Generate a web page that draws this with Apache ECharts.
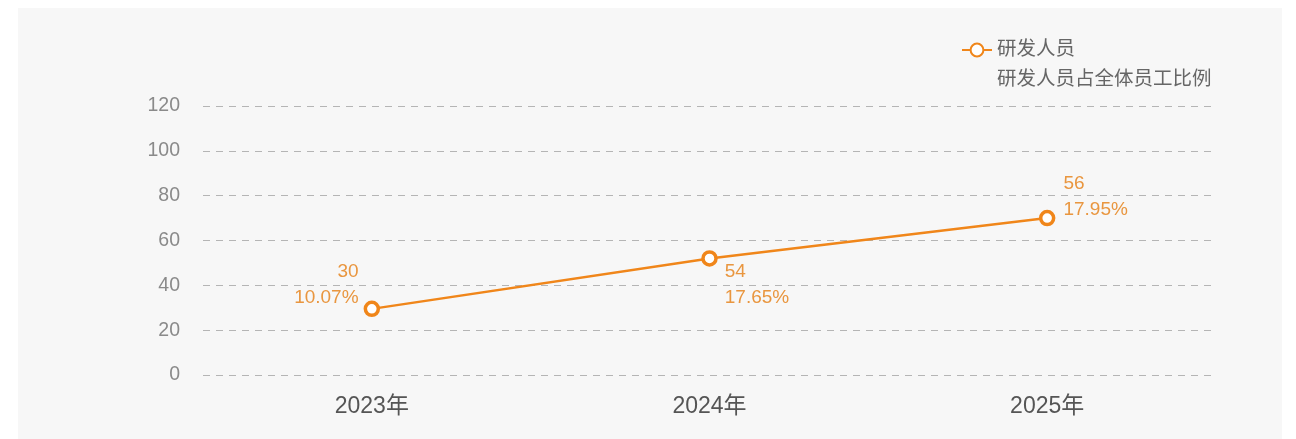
<!DOCTYPE html>
<html>
<head>
<meta charset="utf-8">
<style>
  html, body { margin: 0; padding: 0; background: #fff; }
  #main { width: 1296px; height: 439px; }
</style>
<script src="https://cdn.jsdelivr.net/npm/echarts@6/dist/echarts.min.js"></script>
</head>
<body>
<div id="main"></div>
<script>
// 数据
var years = ['2023年', '2024年', '2025年'];
var staffLine = [29.5, 52, 70];          // 图上折线位置
var staffCount = [30, 54, 56];           // 标注的人数
var staffRatio = ['10.07%', '17.65%', '17.95%'];
var ratioValue = [10.07, 17.65, 17.95];
var yTicks = [0, 120, 20];               // min, max, interval

var fontFamily = '"Liberation Sans", "Noto Sans CJK SC", sans-serif';
var orange = '#f0861a';
var labelColor = '#e9963f';

// 每个点的标注摆放
var labelPlace = [
    {position: 'left', offset: [0, -24]},
    {position: 'right', offset: [2, 26]},
    {position: 'right', offset: [3, -21]}
];

var chart = echarts.init(document.getElementById('main'));

var lineData = staffLine.map(function (v, i) {
    return {
        value: v,
        label: {
            show: true,
            position: labelPlace[i].position,
            offset: labelPlace[i].offset,
            formatter: staffCount[i] + '\n' + staffRatio[i]
        }
    };
});

var option = {
    backgroundColor: '#ffffff',
    textStyle: {fontFamily: fontFamily},
    graphic: [{
        type: 'rect',
        z: -10,
        silent: true,
        shape: {x: 18, y: 8, width: 1264, height: 431},
        style: {fill: '#f7f7f7'}
    }],
    legend: {
        orient: 'vertical',
        left: 956,
        top: 35,
        itemWidth: 30,
        itemHeight: 16,
        itemGap: 10,
        textStyle: {color: '#666', fontSize: 19.5, lineHeight: 20, fontFamily: fontFamily},
        data: [
            {name: '研发人员'},
            {name: '研发人员占全体员工比例', itemStyle: {opacity: 0}, lineStyle: {opacity: 0}}
        ]
    },
    grid: {
        left: 203,
        right: 80,
        top: 106,
        bottom: 64,
        containLabel: false
    },
    xAxis: [{
        type: 'category',
        boundaryGap: true,
        data: years,
        axisLine: {show: false},
        axisTick: {show: false},
        axisLabel: {color: '#555', fontSize: 23, margin: 20, fontFamily: fontFamily}
    }],
    yAxis: [{
        type: 'value',
        min: yTicks[0],
        max: yTicks[1],
        interval: yTicks[2],
        axisLine: {show: false},
        axisTick: {show: false},
        axisLabel: {color: '#8a8a8a', fontSize: 19.5, margin: 23, fontFamily: fontFamily},
        splitLine: {
            lineStyle: {color: '#b5b5b5', width: 1, type: [7, 6]}
        }
    }, {
        type: 'value',
        show: false,
        min: 0,
        max: 100
    }],
    series: [{
        name: '研发人员',
        type: 'line',
        data: lineData,
        symbol: 'circle',
        symbolSize: 13,
        lineStyle: {color: orange, width: 2.5},
        itemStyle: {color: '#ffffff', borderColor: orange, borderWidth: 3.5},
        label: {
            color: labelColor,
            fontSize: 19,
            lineHeight: 26,
            fontFamily: fontFamily
        },
        animation: false
    }, {
        name: '研发人员占全体员工比例',
        type: 'line',
        yAxisIndex: 1,
        data: ratioValue,
        symbol: 'none',
        silent: true,
        lineStyle: {opacity: 0},
        itemStyle: {color: orange},
        animation: false
    }]
};
chart.setOption(option);
</script>
</body>
</html>
